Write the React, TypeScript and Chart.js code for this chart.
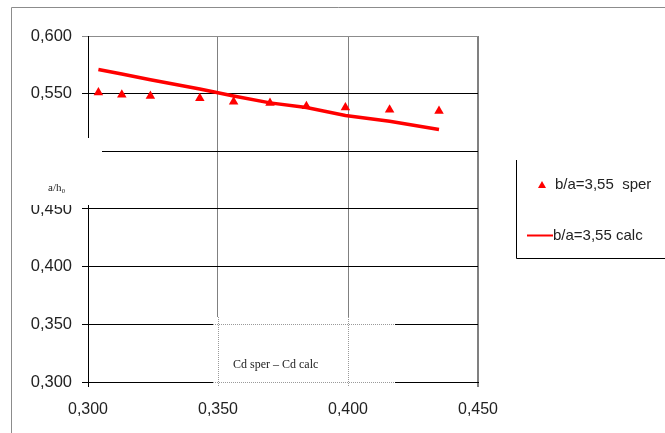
import React, { useEffect, useRef } from "react";
import { Chart, registerables } from "chart.js";

Chart.register(...registerables);

const xValues = [0.304, 0.313, 0.324, 0.343, 0.356, 0.370, 0.384, 0.399, 0.416, 0.435];
const sperValues = [0.551, 0.549, 0.548, 0.546, 0.543, 0.542, 0.539, 0.538, 0.536, 0.535];
const calcValues = [0.571, 0.567, 0.562, 0.554, 0.548, 0.542, 0.538, 0.531, 0.526, 0.519];
const sperLabel = "b/a=3,55  sper";
const calcLabel = "b/a=3,55 calc";
const yAxisTitle = "a/h\u2080";
const noteText = "Cd sper \u2013 Cd calc";

const fmt = (v: number) => v.toFixed(3).replace(".", ",");
const near = (a: number, b: number) => Math.abs(a - b) < 1e-6;

const decorPlugin = {
  id: "decor",
  beforeDraw(chart: any) {
    const ctx = chart.ctx;
    ctx.save();
    ctx.strokeStyle = "#8c8c8c";
    ctx.lineWidth = 1;
    ctx.beginPath();
    ctx.moveTo(11.5, chart.height);
    ctx.lineTo(11.5, 7.5);
    ctx.lineTo(chart.width, 7.5);
    ctx.stroke();
    ctx.restore();
  },
  afterDraw(chart: any) {
    const ctx = chart.ctx;
    const xs = chart.scales.x;
    const ys = chart.scales.y;
    ctx.save();
    // white patch hiding part of the y axis
    ctx.fillStyle = "#ffffff";
    ctx.fillRect(12, 138, 90, 67);
    ctx.fillStyle = "#222";
    ctx.font = "11px 'Liberation Serif', 'DejaVu Serif', serif";
    ctx.textAlign = "left";
    ctx.textBaseline = "middle";
    ctx.fillText(yAxisTitle, 48, 188);

    // note box at bottom
    const bx0 = 213, bx1 = 395, by0 = 317, by1 = 387;
    ctx.fillStyle = "#ffffff";
    ctx.fillRect(bx0, by0, bx1 - bx0, by1 - by0);
    ctx.strokeStyle = "#9a9a9a";
    ctx.lineWidth = 1;
    ctx.setLineDash([1, 1]);
    [0.35, 0.3].forEach((v) => {
      const py = Math.round(ys.getPixelForValue(v)) + 0.5;
      ctx.beginPath();
      ctx.moveTo(bx0, py);
      ctx.lineTo(bx1, py);
      ctx.stroke();
    });
    [0.35, 0.4].forEach((v) => {
      const px = Math.round(xs.getPixelForValue(v)) + 0.5;
      ctx.beginPath();
      ctx.moveTo(px, by0);
      ctx.lineTo(px, by1);
      ctx.stroke();
    });
    ctx.setLineDash([]);
    ctx.fillStyle = "#222";
    ctx.font = "12px 'Liberation Serif', 'DejaVu Serif', serif";
    ctx.textBaseline = "middle";
    ctx.fillText(noteText, 233, 365);

    // legend
    ctx.strokeStyle = "#000";
    ctx.lineWidth = 1;
    ctx.beginPath();
    ctx.moveTo(516.5, 160);
    ctx.lineTo(516.5, 258.5);
    ctx.lineTo(chart.width, 258.5);
    ctx.stroke();

    ctx.fillStyle = "#ff0000";
    ctx.beginPath();
    ctx.moveTo(542, 181);
    ctx.lineTo(546, 188);
    ctx.lineTo(538, 188);
    ctx.closePath();
    ctx.fill();

    ctx.strokeStyle = "#ff0000";
    ctx.lineWidth = 2;
    ctx.beginPath();
    ctx.moveTo(527, 235.5);
    ctx.lineTo(553, 235.5);
    ctx.stroke();

    ctx.fillStyle = "#222";
    ctx.font = "15px 'Liberation Sans', Arial, sans-serif";
    ctx.textBaseline = "middle";
    ctx.fillText(sperLabel, 555, 185);
    ctx.fillText(calcLabel, 553, 236);
    ctx.restore();
  },
};

export default function App() {
  const canvasRef = useRef<HTMLCanvasElement | null>(null);

  useEffect(() => {
    const canvas = canvasRef.current;
    if (!canvas) return;
    const chart = new Chart(canvas, {
      type: "scatter",
      data: {
        datasets: [
          {
            label: calcLabel,
            data: xValues.map((x, i) => ({ x, y: calcValues[i] })),
            showLine: true,
            borderColor: "#ff0000",
            backgroundColor: "#ff0000",
            borderWidth: 3.5,
            pointRadius: 0,
            tension: 0,
            order: 1,
          },
          {
            label: sperLabel,
            data: xValues.map((x, i) => ({ x, y: sperValues[i] })),
            showLine: false,
            pointStyle: "triangle",
            pointRadius: 5.5,
            borderWidth: 0,
            backgroundColor: "#ff0000",
            borderColor: "#ff0000",
            order: 2,
          },
        ],
      },
      options: {
        animation: false,
        responsive: false,
        devicePixelRatio: 1,
        layout: { padding: { left: 0, top: 36, right: 187, bottom: 0 } },
        plugins: {
          legend: { display: false },
          tooltip: { enabled: false },
          title: { display: false },
        },
        scales: {
          x: {
            type: "linear",
            min: 0.3,
            max: 0.45,
            afterFit: (s: any) => {
              s.height = 51;
            },
            afterBuildTicks: (s: any) => {
              s.ticks = [0.3, 0.35, 0.4, 0.45].map((v) => ({ value: v }));
            },
            ticks: {
              stepSize: 0.05,
              color: "#222",
              font: { family: "'Liberation Sans', Arial, sans-serif", size: 16 },
              padding: 13,
              maxRotation: 0,
              callback: (v: any) => fmt(Number(v)),
            },
            grid: {
              drawTicks: true,
              tickLength: 5,
              color: (c: any) => {
                const v = c.tick ? c.tick.value : 0;
                if (near(v, 0.3)) return "#000";
                return "#808080";
              },
              lineWidth: (c: any) => {
                const v = c.tick ? c.tick.value : 0;
                return near(v, 0.45) ? 2 : 1;
              },
            },
            border: { display: true, color: "#000", width: 1 },
          },
          y: {
            type: "linear",
            min: 0.3,
            max: 0.6,
            afterFit: (s: any) => {
              s.width = 88;
            },
            afterBuildTicks: (s: any) => {
              s.ticks = [0.3, 0.35, 0.4, 0.45, 0.5, 0.55, 0.6].map((v) => ({ value: v }));
            },
            ticks: {
              stepSize: 0.05,
              color: "#222",
              font: { family: "'Liberation Sans', Arial, sans-serif", size: 16.5 },
              padding: 10,
              callback: (v: any) => fmt(Number(v)),
            },
            grid: {
              drawTicks: true,
              tickLength: 6,
              color: (c: any) => {
                const v = c.tick ? c.tick.value : 0;
                if (near(v, 0.6)) return "#8c8c8c";
                return "#000";
              },
            },
            border: { display: true, color: "#000", width: 1 },
          },
        },
      },
      plugins: [decorPlugin],
    });
    return () => chart.destroy();
  }, []);

  return (
    <div style={{ position: "fixed", left: 0, top: 0, width: 665, height: 433, background: "#fff" }}>
      <canvas ref={canvasRef} width={665} height={433} style={{ width: 665, height: 433, display: "block" }} />
    </div>
  );
}
